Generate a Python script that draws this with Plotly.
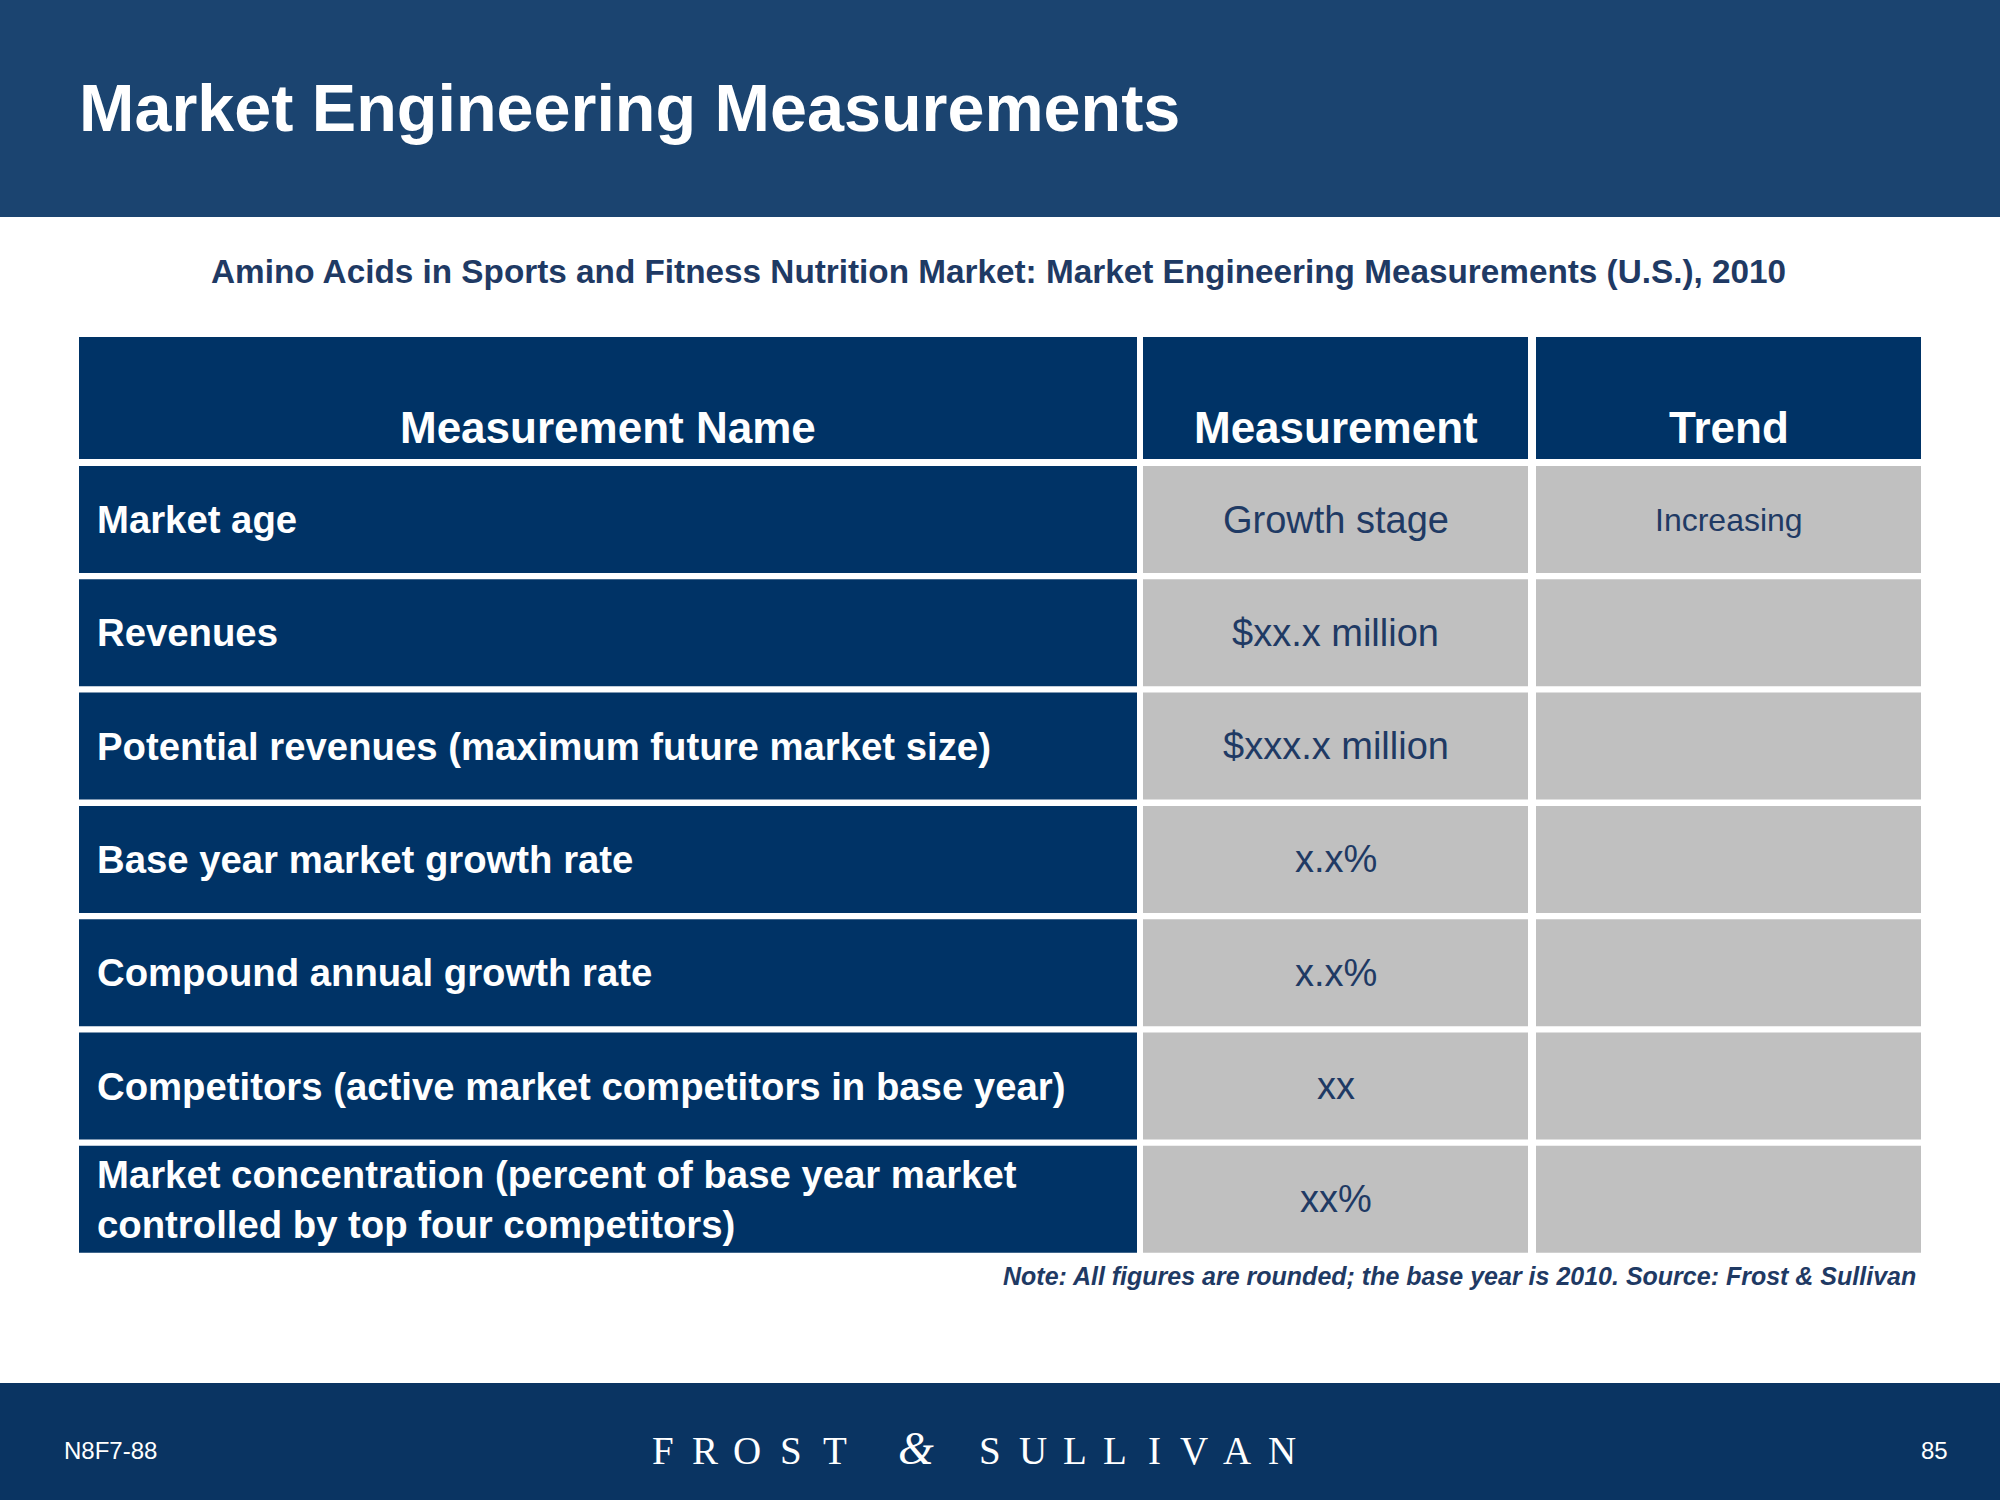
import plotly.graph_objects as go

# ---------------- data ----------------
title_text = "Market Engineering Measurements"
subtitle_text = "Amino Acids in Sports and Fitness Nutrition Market: Market Engineering Measurements (U.S.), 2010"
headers = ["Measurement Name", "Measurement", "Trend"]
measurement_names = [
    "Market age",
    "Revenues",
    "Potential revenues (maximum future market size)",
    "Base year market growth rate",
    "Compound annual growth rate",
    "Competitors (active market competitors in base year)",
    "Market concentration (percent of base year market<br>controlled by top four competitors)",
]
measurements = ["Growth stage", "$xx.x million", "$xxx.x million", "x.x%", "x.x%", "xx", "xx%"]
trends = ["Increasing", "", "", "", "", "", ""]
note_text = "Note: All figures are rounded; the base year is 2010. Source: Frost & Sullivan"
footer_left = "N8F7-88"
footer_right = "85"
brand_letters = ["F", "R", "O", "S", "T", "&", "S", "U", "L", "L", "I", "V", "A", "N"]

# ---------------- layout constants ----------------
W, H = 2000, 1500
BAND = "#1B4470"
NAVY = "#003366"
FOOT = "#0A3462"
GREY = "#C0C0C0"
TXT = "#1F3A64"
SANS = "Liberation Sans, Arial, sans-serif"
SERIF = "Liberation Serif, Times New Roman, serif"

col_edges = [(79, 1137), (1143, 1528), (1536, 1921)]
head_top, head_bot = 337, 459
row_top0, row_h, row_pitch = 466, 107, 113.3

fig = go.Figure()
shapes = []
ann = []

# header band & footer band
shapes.append(dict(type="rect", x0=0, x1=W, y0=0, y1=217, fillcolor=BAND, line_width=0, layer="below"))
shapes.append(dict(type="rect", x0=0, x1=W, y0=1383, y1=H, fillcolor=FOOT, line_width=0, layer="below"))

ann.append(dict(x=77, y=108, text="<b>" + title_text + "</b>", xanchor="left", yanchor="middle",
                font=dict(family=SANS, size=66.5, color="white")))
ann.append(dict(x=998, y=271, text="<b>" + subtitle_text + "</b>", xanchor="center", yanchor="middle",
                font=dict(family=SANS, size=33.3, color=TXT)))

# table header
for (x0, x1), h in zip(col_edges, headers):
    shapes.append(dict(type="rect", x0=x0, x1=x1, y0=head_top, y1=head_bot, fillcolor=NAVY, line_width=0))
    ann.append(dict(x=(x0 + x1) / 2, y=427, text="<b>" + h + "</b>", xanchor="center", yanchor="middle",
                    font=dict(family=SANS, size=44, color="white")))

# table body
for i, (name, meas, tr) in enumerate(zip(measurement_names, measurements, trends)):
    y0 = row_top0 + i * row_pitch
    y1 = y0 + row_h
    yc = (y0 + y1) / 2
    fills = [NAVY, GREY, GREY]
    for (x0, x1), f in zip(col_edges, fills):
        shapes.append(dict(type="rect", x0=x0, x1=x1, y0=y0, y1=y1, fillcolor=f, line_width=0))
    ann.append(dict(x=col_edges[0][0] + 16, y=yc, text="<b>" + name + "</b>", xanchor="left", yanchor="middle",
                    align="left", font=dict(family=SANS, size=38.3, color="white")))
    c2 = col_edges[1]
    ann.append(dict(x=(c2[0] + c2[1]) / 2, y=yc, text=meas, xanchor="center", yanchor="middle",
                    font=dict(family=SANS, size=38, color=TXT)))
    if tr:
        c3 = col_edges[2]
        ann.append(dict(x=(c3[0] + c3[1]) / 2, y=yc, text=tr, xanchor="center", yanchor="middle",
                        font=dict(family=SANS, size=32, color=TXT)))

# note
ann.append(dict(x=1918, y=1276, text="<b><i>" + note_text + "</i></b>", xanchor="right", yanchor="middle",
                font=dict(family=SANS, size=25, color=TXT)))

# footer
ann.append(dict(x=62, y=1450, text=footer_left, xanchor="left", yanchor="middle",
                font=dict(family=SANS, size=24, color="white")))
ann.append(dict(x=1950, y=1450, text=footer_right, xanchor="right", yanchor="middle",
                font=dict(family=SERIF if False else SANS, size=24, color="white")))
brand_x = [663, 705, 747, 791, 835, 916, 990, 1033, 1075, 1115, 1154, 1194, 1237, 1282]
for ch, bx in zip(brand_letters, brand_x):
    if ch == "&":
        ann.append(dict(x=bx, y=1448, text="<i>&amp;</i>", xanchor="center", yanchor="middle",
                        font=dict(family=SERIF, size=46, color="white")))
    else:
        ann.append(dict(x=bx, y=1450, text=ch, xanchor="center", yanchor="middle",
                        font=dict(family=SERIF, size=39, color="white")))

for a in ann:
    a.update(xref="x", yref="y", showarrow=False)

fig.update_layout(
    width=W, height=H,
    margin=dict(l=0, r=0, t=0, b=0),
    paper_bgcolor="white", plot_bgcolor="white",
    shapes=shapes, annotations=ann,
    xaxis=dict(range=[0, W], visible=False, fixedrange=True),
    yaxis=dict(range=[H, 0], visible=False, fixedrange=True),
    showlegend=False,
)

fig.write_html(
    "out.html",
    config={"displayModeBar": False},
    post_script="document.body.style.margin='0';document.body.style.padding='0';"
                "document.body.style.overflow='hidden';",
)
